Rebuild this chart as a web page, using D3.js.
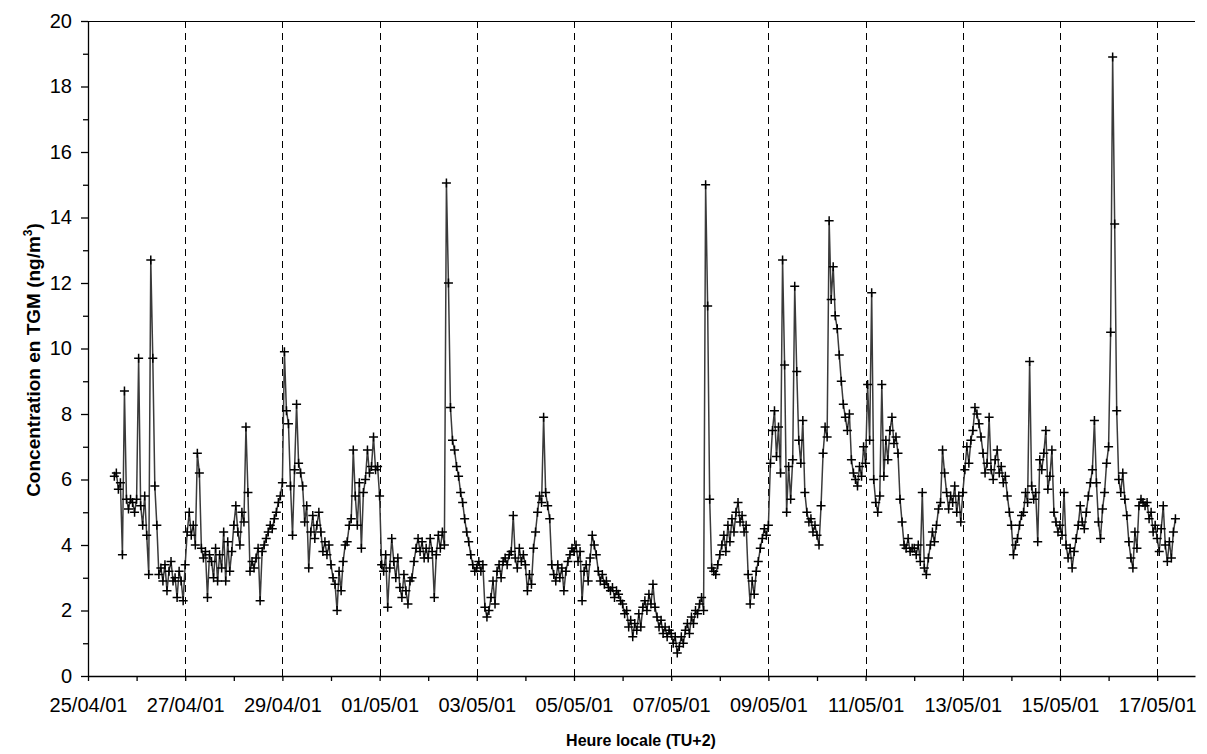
<!DOCTYPE html>
<html>
<head>
<meta charset="utf-8">
<script src="https://cdn.jsdelivr.net/npm/d3@7/dist/d3.min.js"></script>
<style>
  html, body { margin: 0; padding: 0; background: #fff; }
  svg { display: block; }
  text { font-family: Arial, "Liberation Sans", sans-serif; fill: #000; }
</style>
</head>
<body>
<svg id="chart" width="1207" height="754"></svg>
<script>
// ---- data (hourly TGM concentrations, ng/m3) ----
const startTime = Date.UTC(2001, 3, 25, 13, 0); // 25/04/01 13:00
const stepHours = 1;
const tgm = [
  // 25/04 (13h-23h)
  6.1, 6.2, 5.7, 5.9, 3.7, 8.7, 5.4, 5.1, 5.4, 5.3, 5.0,
  // 26/04
  5.4, 9.7, 5.2, 4.6, 5.5, 4.3, 3.1, 12.7, 9.7, 5.8, 4.6, 3.1, 3.3, 2.9, 3.4, 2.6, 3.2, 3.5, 2.9, 3.0, 2.4, 3.2, 2.9, 2.3,
  // 27/04
  3.4, 4.4, 5.0, 4.3, 4.6, 4.0, 6.8, 6.2, 3.9, 3.6, 3.8, 2.4, 3.7, 3.5, 3.0, 3.9, 2.9, 3.7, 3.3, 4.4, 2.9, 4.1, 3.2, 3.8,
  // 28/04
  4.6, 5.2, 4.4, 4.0, 5.0, 4.7, 7.6, 5.6, 3.2, 3.5, 3.3, 3.6, 3.9, 2.3, 3.8, 4.0, 4.2, 4.4, 4.6, 4.5, 4.8, 5.0, 5.3, 5.5,
  // 29/04
  5.9, 9.9, 8.1, 7.7, 5.8, 4.3, 6.3, 8.3, 6.5, 6.2, 5.8, 4.7, 5.2, 3.3, 4.4, 4.9, 4.2, 4.6, 5.0, 4.4, 3.8, 4.1, 3.7, 4.0,
  // 30/04
  3.4, 3.0, 2.8, 2.0, 3.2, 2.6, 3.5, 4.0, 4.1, 4.6, 4.8, 6.9, 5.5, 4.6, 5.9, 3.9, 5.6, 6.0, 6.9, 6.2, 6.4, 7.3, 6.3, 6.4,
  // 01/05
  5.5, 3.4, 3.2, 3.7, 2.1, 3.3, 4.2, 3.5, 3.0, 3.6, 2.7, 2.4, 3.1, 2.6, 2.2, 2.9, 3.0, 3.5, 3.9, 4.2, 3.8, 4.1, 3.6, 3.9,
  // 02/05
  3.6, 4.2, 3.8, 2.4, 3.7, 4.3, 3.9, 4.4, 4.0, 15.05, 12.0, 8.2, 7.2, 6.9, 6.4, 6.1, 5.6, 5.3, 4.8, 4.4, 4.1, 3.7, 3.4, 3.2,
  // 03/05
  3.3, 3.5, 3.2, 3.4, 2.1, 1.8, 2.0, 2.4, 2.9, 2.2, 3.2, 3.4, 3.0, 3.5, 3.6, 3.4, 3.7, 3.8, 4.9, 3.6, 3.3, 3.9, 3.5, 3.7,
  // 04/05
  3.4, 2.6, 3.1, 2.8, 3.9, 4.4, 5.0, 5.5, 5.3, 7.9, 5.6, 5.2, 4.8, 3.4, 3.1, 2.9, 3.4, 3.0, 3.3, 2.6, 3.2, 3.5, 3.7, 3.9,
  // 05/05
  3.8, 4.0, 3.5, 3.8, 2.3, 3.2, 3.4, 2.9, 3.6, 4.3, 4.0, 3.7, 3.2, 2.9, 3.1, 2.8, 2.9, 2.7, 2.6, 2.7, 2.4, 2.6, 2.5, 2.3,
  // 06/05
  2.2, 1.9, 2.0, 1.5, 1.7, 1.2, 1.6, 1.4, 1.9, 1.5, 2.1, 2.3, 2.0, 2.5, 2.2, 2.8, 2.1, 1.8, 1.5, 1.7, 1.3, 1.5, 1.2, 1.4,
  // 07/05
  1.3, 1.0, 1.2, 0.7, 0.9, 1.2, 1.0, 1.4, 1.6, 1.3, 1.8, 1.6, 2.0, 1.9, 2.2, 2.4, 2.0, 15.0, 11.3, 5.4, 3.3, 3.2, 3.1, 3.4,
  // 08/05
  3.7, 4.0, 4.3, 3.8, 4.6, 4.1, 4.8, 4.4, 5.0, 5.3, 4.7, 4.9, 4.4, 4.6, 3.1, 2.2, 2.9, 2.5, 3.2, 3.5, 3.9, 4.2, 4.5, 4.3,
  // 09/05
  4.6, 6.5, 7.5, 8.1, 6.7, 7.6, 6.2, 12.7, 9.5, 5.0, 6.4, 5.4, 6.6, 11.9, 9.3, 7.2, 6.5, 7.8, 5.6, 5.0, 4.7, 4.8, 4.4, 4.6,
  // 10/05
  4.3, 4.0, 5.2, 6.8, 7.6, 7.3, 13.9, 11.5, 12.5, 11.0, 10.6, 9.8, 9.0, 8.3, 7.9, 7.5, 8.0, 6.6, 6.2, 6.0, 5.8, 6.4, 6.1, 7.0,
  // 11/05
  6.5, 8.9, 7.2, 11.7, 6.0, 5.3, 5.0, 5.5, 8.9, 6.1, 7.2, 6.6, 7.5, 7.9, 7.1, 7.3, 6.8, 5.4, 4.7, 4.0, 3.9, 4.2, 3.8, 3.9,
  // 12/05
  3.9, 3.7, 4.0, 3.5, 5.6, 3.3, 3.1, 3.6, 4.0, 4.4, 4.1, 4.6, 5.1, 5.3, 6.9, 6.2, 5.6, 5.1, 5.5, 5.3, 5.8, 5.0, 5.5, 4.7,
  // 13/05
  5.6, 6.3, 7.0, 6.5, 7.2, 7.5, 8.2, 8.0, 7.7, 7.3, 6.8, 6.2, 6.5, 7.9, 6.3, 6.0, 6.6, 6.9, 6.2, 6.4, 5.9, 6.1, 5.5, 5.0,
  // 14/05
  4.6, 3.7, 4.0, 4.2, 4.6, 4.9, 5.0, 5.6, 5.3, 9.6, 5.8, 5.4, 5.6, 4.1, 6.6, 6.3, 6.8, 7.5, 5.7, 6.1, 6.9, 5.0, 4.7, 4.4,
  // 15/05
  4.6, 4.3, 5.6, 4.0, 3.6, 3.9, 3.3, 3.8, 4.2, 4.6, 5.2, 4.7, 4.5, 5.0, 5.5, 5.9, 6.3, 7.8, 5.9, 4.7, 4.2, 5.1, 5.6, 6.5,
  // 16/05
  7.0, 10.5, 18.9, 13.8, 8.1, 6.0, 5.6, 6.2, 5.4, 4.9, 4.1, 3.6, 3.3, 4.4, 3.9, 5.2, 5.4, 5.3, 5.2, 5.3, 4.8, 5.0, 4.4, 4.6,
  // 17/05 (0h-9h)
  4.2, 3.8, 4.5, 5.2, 4.0, 3.5, 4.1, 3.6, 4.4, 4.8
];

const xStart = Date.UTC(2001, 3, 25);
const xEnd = Date.UTC(2001, 4, 17, 18, 40);
const xMajorTicks = d3.range(0, 23, 2).map(d => Date.UTC(2001, 3, 25 + d));
const xMinorTicks = d3.range(1, 23, 2).map(d => Date.UTC(2001, 3, 25 + d));
const dashedDays = d3.range(2, 23, 2).map(d => Date.UTC(2001, 3, 25 + d));
const yMajorTicks = d3.range(0, 21, 2);
const yMinorTicks = d3.range(1, 20, 2);
const yTitle = "Concentration en TGM (ng/m";
const xTitle = "Heure locale (TU+2)";

// ---- chart ----
const svg = d3.select("#chart");
const pL = 88, pR = 1195, pT = 21, pB = 676;

const x = d3.scaleUtc().domain([xStart, xEnd]).range([pL, pR]);
const y = d3.scaleLinear().domain([0, 20]).range([pB, pT]);

const points = tgm.map((v, i) => ({ t: startTime + i * stepHours * 3600 * 1000, v }));

// dashed day lines
svg.append("g").selectAll("line").data(dashedDays).join("line")
  .attr("x1", d => Math.round(x(d)) + 0.5).attr("x2", d => Math.round(x(d)) + 0.5)
  .attr("y1", y(0)).attr("y2", y(20))
  .attr("stroke", "#000").attr("stroke-width", 1).attr("stroke-dasharray", "7,5");

// top border
svg.append("line").attr("x1", pL).attr("x2", pR).attr("y1", y(20) + 0.5).attr("y2", y(20) + 0.5)
  .attr("stroke", "#000").attr("stroke-width", 1);

// line
const line = d3.line().x(d => x(d.t)).y(d => y(d.v));
svg.append("path").datum(points).attr("d", line)
  .attr("fill", "none").attr("stroke", "#3a3a3a").attr("stroke-width", 1.5);

// markers
svg.append("g").selectAll("path").data(points).join("path")
  .attr("transform", d => `translate(${x(d.t)},${y(d.v)})`)
  .attr("d", "M-4.5,0H4.5M0,-4.5V4.5")
  .attr("stroke", "#000").attr("stroke-width", 1.5).attr("fill", "none");

// y axis
const yAxis = svg.append("g").attr("transform", `translate(${pL},0)`)
  .call(d3.axisLeft(y).tickValues(yMajorTicks).tickSize(7).tickSizeOuter(0).tickPadding(9));
const yMinor = svg.append("g").attr("transform", `translate(${pL},0)`)
  .call(d3.axisLeft(y).tickValues(yMinorTicks).tickSize(5).tickSizeOuter(0).tickFormat(""));
yMinor.select(".domain").remove();

// x axis
const fmt = d3.utcFormat("%d/%m/%y");
const xAxis = svg.append("g").attr("transform", `translate(0,${pB})`)
  .call(d3.axisBottom(x).tickValues(xMajorTicks).tickSize(5).tickSizeOuter(0).tickPadding(17).tickFormat(fmt));
const xMinor = svg.append("g").attr("transform", `translate(0,${pB})`)
  .call(d3.axisBottom(x).tickValues(xMinorTicks).tickSize(5).tickSizeOuter(0).tickFormat(""));
xMinor.select(".domain").remove();

svg.selectAll(".domain, .tick line").attr("stroke", "#000").attr("stroke-width", 1.3);
yAxis.selectAll("text").attr("font-size", 20).attr("font-family", "Arial, 'Liberation Sans', sans-serif");
xAxis.selectAll("text").attr("font-size", 20).attr("font-family", "Arial, 'Liberation Sans', sans-serif");

// titles
svg.append("text").attr("x", 641).attr("y", 746).attr("text-anchor", "middle")
  .attr("font-size", 16).attr("font-weight", "bold").text(xTitle);

const yt = svg.append("text").attr("transform", `translate(40,360) rotate(-90)`)
  .attr("text-anchor", "middle").attr("font-size", 19).attr("font-weight", "bold");
yt.append("tspan").text(yTitle);
yt.append("tspan").attr("font-size", 12).attr("dy", -8).text("3");
yt.append("tspan").attr("dy", 8).text(")");
</script>
</body>
</html>
